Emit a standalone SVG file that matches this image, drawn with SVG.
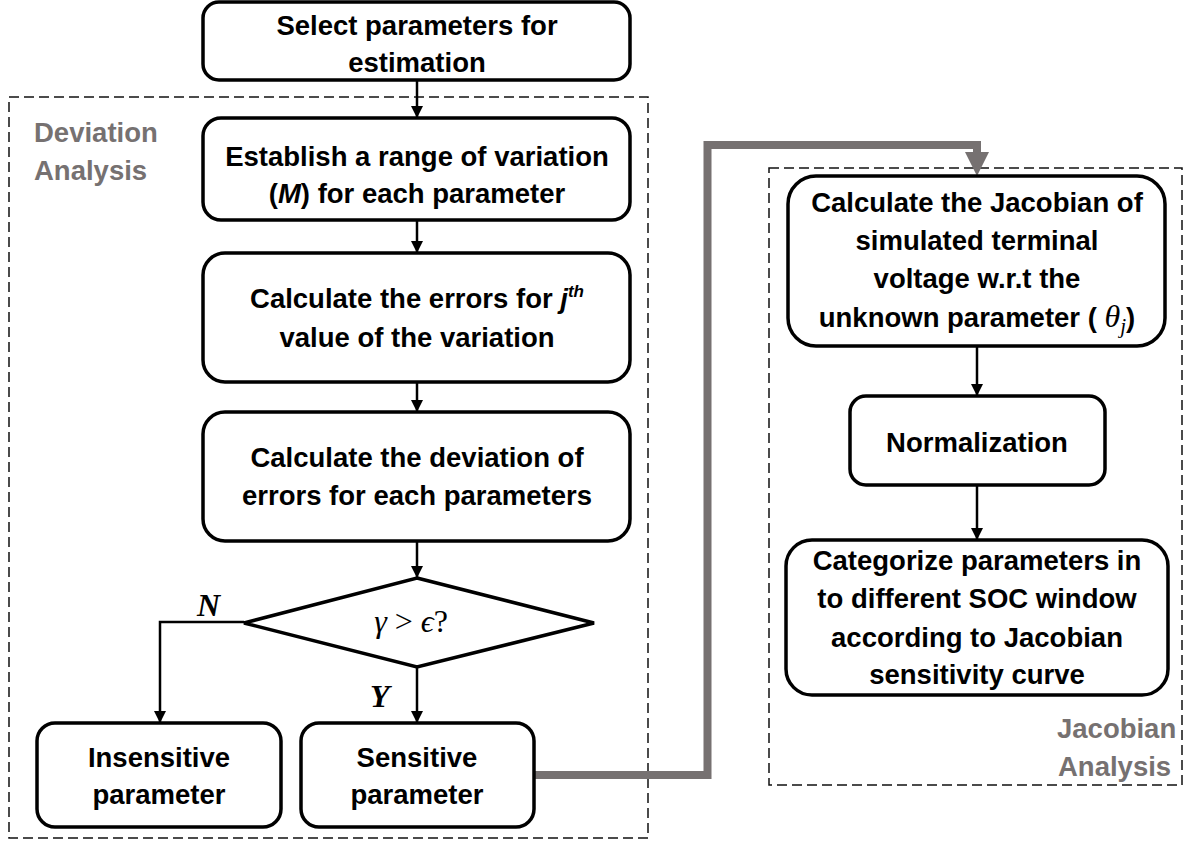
<svg xmlns="http://www.w3.org/2000/svg" width="1191" height="841" viewBox="0 0 1191 841">
<style>
.box{fill:#fff;stroke:#000;stroke-width:3.5}
.grp{fill:none;stroke:#111;stroke-width:1.5;stroke-dasharray:10 5}
.t{font-family:"Liberation Sans",Arial,sans-serif;font-weight:bold;font-size:27.5px;fill:#000;text-anchor:middle}
.lbl{font-family:"Liberation Sans",Arial,sans-serif;font-weight:bold;font-size:27.5px;fill:#767171}
.math{font-family:"Liberation Serif","DejaVu Serif",serif;font-size:32px;fill:#000}
.yn{font-family:"Liberation Serif","DejaVu Serif",serif;font-weight:bold;font-style:italic;font-size:32px;fill:#000}
.conn{fill:none;stroke:#000;stroke-width:2.5}
</style>
<defs>
<marker id="ah" viewBox="0 0 12 12" refX="12" refY="6" markerWidth="12" markerHeight="12" markerUnits="userSpaceOnUse" orient="auto"><path d="M0,0 L12,6 L0,12 z" fill="#000"/></marker>
</defs>
<g id="groups">
<rect class="grp" x="9" y="97" width="639" height="741"/>
<text class="lbl" x="34" y="142">Deviation</text>
<text class="lbl" x="34" y="180">Analysis</text>
<rect class="grp" x="769" y="168" width="413" height="617"/>
<text class="lbl" x="1057" y="738">Jacobian</text>
<text class="lbl" x="1058" y="776">Analysis</text>
</g>
<g id="connectors">
<line class="conn" x1="417" y1="80" x2="417" y2="118" marker-end="url(#ah)"/>
<line class="conn" x1="417" y1="220" x2="417" y2="253" marker-end="url(#ah)"/>
<line class="conn" x1="417" y1="382" x2="417" y2="412" marker-end="url(#ah)"/>
<line class="conn" x1="417" y1="541" x2="417" y2="578" marker-end="url(#ah)"/>
<line class="conn" x1="417" y1="667" x2="417" y2="723" marker-end="url(#ah)"/>
<path class="conn" d="M244,622 H160 V723" marker-end="url(#ah)"/>
<line class="conn" x1="977" y1="346" x2="977" y2="396" marker-end="url(#ah)"/>
<line class="conn" x1="977" y1="485" x2="977" y2="540" marker-end="url(#ah)"/>
<path d="M534,775 H707.5 V145 H977 V156" fill="none" stroke="#767171" stroke-width="8" stroke-linejoin="miter"/>
<polygon points="965,152 989,152 977,176" fill="#767171"/>
<text class="yn" x="197" y="616">N</text>
<text class="yn" x="370" y="707">Y</text>
</g>
<g id="n-select">
<rect class="box" x="203" y="2" width="427" height="78" rx="16"/>
<text class="t" x="417" y="35">Select parameters for</text>
<text class="t" x="417" y="72">estimation</text>
</g>
<g id="n-establish">
<rect class="box" x="203" y="118" width="427" height="102" rx="18"/>
<text class="t" x="417" y="166">Establish a range of variation</text>
<text class="t" x="417" y="203">(<tspan font-style="italic">M</tspan>) for each parameter</text>
</g>
<g id="n-errors">
<rect class="box" x="203" y="253" width="427" height="129" rx="22"/>
<text class="t" x="417" y="308">Calculate the errors for <tspan font-style="italic">j</tspan><tspan font-style="italic" font-size="17" dy="-11">th</tspan></text>
<text class="t" x="417" y="347">value of the variation</text>
</g>
<g id="n-deviation">
<rect class="box" x="203" y="412" width="427" height="129" rx="22"/>
<text class="t" x="417" y="467">Calculate the deviation of</text>
<text class="t" x="417" y="505">errors for each parameters</text>
</g>
<g id="n-decision">
<polygon class="box" points="417,578 594,623 417,667 244,623"/>
<text class="math" x="411" y="632" text-anchor="middle"><tspan font-style="italic">γ</tspan> &gt; <tspan font-style="italic">ϵ</tspan>?</text>
</g>
<g id="n-insensitive">
<rect class="box" x="37" y="723" width="244" height="104" rx="18"/>
<text class="t" x="159" y="767">Insensitive</text>
<text class="t" x="159" y="804">parameter</text>
</g>
<g id="n-sensitive">
<rect class="box" x="301" y="723" width="233" height="104" rx="18"/>
<text class="t" x="417" y="767">Sensitive</text>
<text class="t" x="417" y="804">parameter</text>
</g>
<g id="n-jacobian">
<rect class="box" x="788" y="176" width="377" height="170" rx="28"/>
<text class="t" x="977" y="212">Calculate the Jacobian of</text>
<text class="t" x="977" y="250">simulated terminal</text>
<text class="t" x="977" y="288">voltage w.r.t the</text>
<text class="t" x="977" y="327">unknown parameter ( <tspan font-family="Liberation Serif,DejaVu Serif,serif" font-weight="normal" font-style="italic" font-size="32">θ</tspan><tspan font-family="Liberation Serif,DejaVu Serif,serif" font-weight="normal" font-style="italic" font-size="21" dy="6">j</tspan><tspan dy="-6">)</tspan></text>
</g>
<g id="n-normalization">
<rect class="box" x="850" y="396" width="255" height="89" rx="16"/>
<text class="t" x="977" y="452">Normalization</text>
</g>
<g id="n-categorize">
<rect class="box" x="786" y="540" width="382" height="155" rx="26"/>
<text class="t" x="977" y="570">Categorize parameters in</text>
<text class="t" x="977" y="608">to different SOC window</text>
<text class="t" x="977" y="647">according to Jacobian</text>
<text class="t" x="977" y="684">sensitivity curve</text>
</g>
</svg>
